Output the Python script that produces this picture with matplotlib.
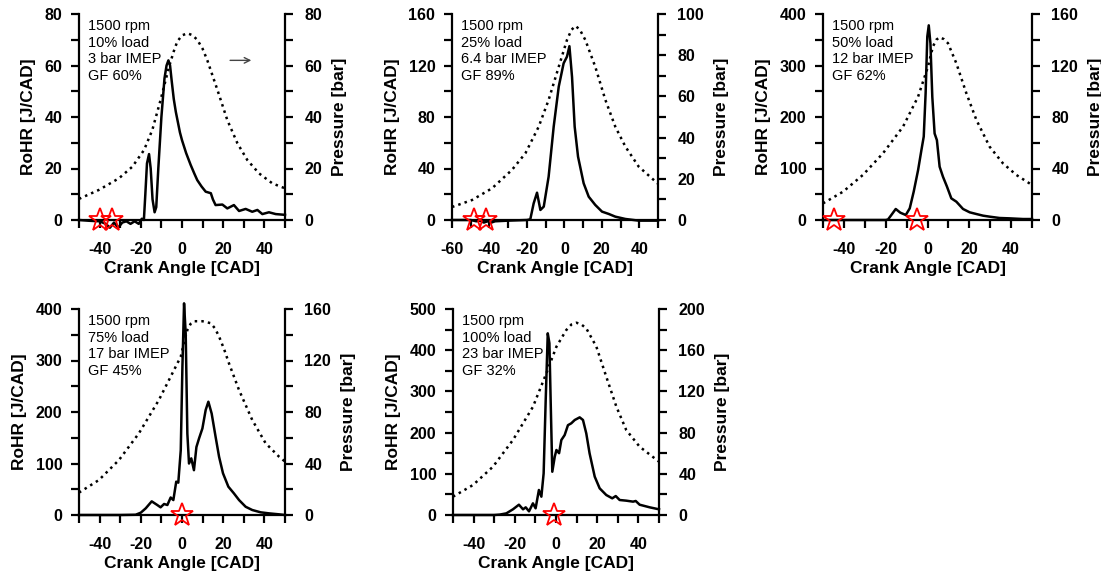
import matplotlib
matplotlib.use("Agg")
import matplotlib.pyplot as plt
from matplotlib.ticker import MultipleLocator

plt.rcParams["font.family"] = ["Liberation Sans", "DejaVu Sans"]
plt.rcParams["axes.unicode_minus"] = False

# ---- data ----
# panel 1: 10% load
ca1 = [-50, -45, -40, -37, -35, -33, -31, -29, -27, -25, -23, -21, -19.5, -18.5, -17.8, -17, -16, -15.2,
       -14.3, -13.3, -12.5, -11.5, -10, -8.5, -7.5, -6.6, -5.8, -5, -4, -3, -2, -1, 0, 2, 4.2, 6, 7.4, 9.5,
       11.5, 14, 15, 16.3, 19.6, 22, 25.2, 27.7, 30.9, 34.1, 36.6, 39, 42.2, 45.5, 50]
rohr1 = [0, -0.3, -0.5, -1.5, -3, -1, -3, -1, -0.5, -1.5, -0.5, -1.5, 0.5, 0, 10, 22, 25.6, 20,
         8, 3, 5, 20, 40, 55, 60, 62, 60, 54, 47, 42, 38, 34, 31, 26, 21.4, 18, 15.5, 13,
         11, 10.4, 8, 5.8, 6, 4.5, 5.8, 3.5, 4.3, 3.2, 3.9, 2.3, 3, 2.3, 2]
pca1 = [-50, -40.3, -30.6, -24.1, -18.4, -14.4, -10.4, -6.3, -4, -2.3, 0, 2.6, 5, 7.4, 10, 12.3, 17.2,
        22, 26.9, 31.7, 37.4, 43.9, 50]
p1 = [8.2, 11.7, 16.2, 20.7, 27.2, 35, 46.6, 59.5, 65.5, 69.3, 71.7, 72.5, 71.8, 70, 66.5, 62, 50.5,
      38.8, 29.8, 23.3, 18.1, 14.2, 12.3]

# panel 2: 25% load
ca2 = [-60, -50, -47, -45, -43, -41, -39, -37, -30, -20, -18.2, -16.4, -14.6, -12.8, -11, -8.4, -5.7, -3,
       -0.4, 1.4, 2.7, 4.1, 5.5, 7.3, 10.3, 13, 16.5, 20.1, 23.7, 27.2, 32.6, 39.7, 50]
rohr2 = [0, 0, -1, -0.5, -2, -1, -2, -1, -0.5, 0, 0.5, 12.9, 21.2, 7.8, 10.4, 33.7, 72.5, 103.6,
         121.7, 126.9, 135, 111, 72.5, 49.2, 28.5, 18.1, 11.7, 6.5, 4.7, 2.6, 0.8, -0.5, -0.5]
pca2 = [-60, -49.3, -38.6, -28, -20.8, -13.7, -8.4, -3, 1.4, 3.8, 5.9, 8.2, 11.2, 16.5, 21.9, 27.2, 32.6,
        39.7, 50]
p2 = [6.3, 9.7, 15.4, 24.3, 32.4, 45.3, 58.3, 74.4, 87.4, 92.3, 94.2, 92.5, 87.4, 74.4, 58.3, 45.3, 35.6,
      25.9, 17.6]

# panel 3: 50% load
ca3 = [-50, -40, -30, -20, -18.9, -17.3, -15.2, -13, -10.4, -8.5, -6.6, -4.5, -2.9, -1.8, -0.9, -0.1, 0.6,
       1.4, 2.3, 3.4, 4.5, 5.8, 7.4, 9.3, 11.4, 13.8, 17, 20.2, 23.4, 26.6, 29.7, 34.5, 39.3, 45.7, 50]
rohr3 = [0, 0, 0, 0, 1, 9.7, 21.4, 14.2, 9.7, 22.6, 55, 97, 136, 162, 246, 356, 378,
         343, 239, 168, 155, 103.5, 84, 65, 42, 35.6, 21.4, 14.9, 11.6, 8.4, 6.5, 3.9, 3.2, 1.9, 1.9]
pca3 = [-50, -40.4, -30.9, -21.3, -11.7, -4.5, 0.2, 2.6, 4.2, 5.8, 7.8, 9.8, 13.8, 18.6, 23.4, 29.7, 36.1,
        42.5, 50]
p3 = [12.9, 22, 35, 51.8, 72.5, 95.8, 119, 134.7, 140, 141.9, 140.5, 137.3, 121.7, 98.4, 77.7, 57, 44,
      35, 27.2]

# panel 4: 75% load
ca4 = [-50, -30, -22.5, -20, -17.6, -14.7, -12, -10.4, -8.7, -7.1, -5.5, -4.2, -2.8, -1.8, -0.6, 0.2, 1,
       1.8, 2.6, 3.4, 4.5, 5.8, 7, 8.3, 9.9, 11.5, 12.8, 14.4, 16.3, 18, 19.9, 22.5, 25.2, 27.7, 30.9,
       34.1, 38.2, 42.2, 47.1, 50]
rohr4 = [0, 0, 0.5, 4.5, 13, 26.5, 19.4, 14.9, 21.4, 19.4, 34, 29, 64.7, 62.8, 126, 288, 411,
         352, 158, 100, 110, 87, 132, 149, 168, 204, 220, 197, 152, 113, 81, 55, 42, 29, 16,
         9.7, 5.2, 3.2, 1.3, 0]
pca4 = [-50, -40.3, -30.6, -20.9, -11.2, -4.7, -0.6, 1, 2.6, 4.2, 5.8, 9.9, 13.9, 16, 18, 20.5, 22.8,
        27.7, 34.1, 40.6, 47.1, 50]
p4 = [17.4, 27.2, 42.7, 63.5, 89.4, 110, 123, 134, 143.7, 148.5, 150.5, 150.5, 149, 145, 138.6, 128.5,
      117.8, 97, 73.8, 55.7, 45.3, 41.5]

# panel 5: 100% load
ca5 = [-50, -30, -27.3, -24.1, -20.9, -18, -16, -14.7, -13.1, -11.2, -9.9, -8.3, -7.1, -6, -5, -4, -3.2,
       -2.6, -1.8, -0.6, 0.2, 1.5, 2.6, 4.2, 5.8, 7.4, 9.1, 11.5, 13.1, 14.7, 16.3, 18.8, 21.2, 24.4,
       27.3, 29, 30.9, 34.1, 37.4, 38.7, 40.6, 45.5, 50]
rohr5 = [0, 0, 1, 4, 13.8, 25, 13.8, 18.6, 8.9, 28.3, 16.2, 60.7, 44.5, 101, 279, 441, 417,
         279, 105, 141.6, 157.8, 150, 182, 194, 218, 222.5, 230.6, 237, 230.6, 198, 149.7, 93, 64.7, 48.5,
         40.5, 46, 36.4, 34.8, 32.4, 34, 25, 18.6, 13.8]
pca5 = [-50, -40.3, -30.6, -20.9, -11.2, -4.7, 0.2, 5, 7.5, 9.9, 12.3, 14.7, 19.6, 24.4, 29.3, 34.1,
        40.6, 50]
p5 = [17.8, 29.1, 46.9, 72.8, 105, 137.5, 163.4, 179.6, 185, 186.7, 185, 181.2, 163.4, 134.3, 105.2,
      82.5, 66.3, 51.8]

notes = [
    "1500 rpm\n10% load\n3 bar IMEP\nGF 60%",
    "1500 rpm\n25% load\n6.4 bar IMEP\nGF 89%",
    "1500 rpm\n50% load\n12 bar IMEP\nGF 62%",
    "1500 rpm\n75% load\n17 bar IMEP\nGF 45%",
    "1500 rpm\n100% load\n23 bar IMEP\nGF 32%",
]
stars = [[-40, -34], [-48, -42], [-44.5, -5], [0], [-1]]
xlims = [(-50, 50), (-60, 50), (-50, 50), (-50, 50), (-50, 50)]
ylims_rohr = [80, 160, 400, 400, 500]
rohr_step = [20, 40, 100, 100, 100]
ylims_p = [80, 100, 160, 160, 200]
p_step = [20, 20, 40, 40, 40]

# ---- layout ----
fig = plt.figure(figsize=(11.01, 5.74), dpi=100)
W, H = 1101, 574
boxes = [(79, 14, 206), (452, 14, 206), (823, 14, 209), (79, 309, 206), (453, 309, 206)]

data = [(ca1, rohr1, pca1, p1), (ca2, rohr2, pca2, p2), (ca3, rohr3, pca3, p3),
        (ca4, rohr4, pca4, p4), (ca5, rohr5, pca5, p5)]

lw_ax = 1.6
for i, (x0, y0, w) in enumerate(boxes):
    ax = fig.add_axes([x0 / W, 1 - (y0 + 206) / H, w / W, 206 / H])
    ax2 = ax.twinx()
    ax.set_zorder(ax2.get_zorder() + 1)
    ax.patch.set_visible(False)
    ca, rohr, pca, p = data[i]

    ax.plot(ca, rohr, color="black", lw=1.8, zorder=3, clip_on=False)
    ax2.plot(pca, p, color="black", lw=1.8, ls=":")
    ax.plot(stars[i], [0] * len(stars[i]), ls="none", marker="*", ms=17, mfc="none",
            mec="red", mew=1.3, clip_on=False, zorder=10)

    ax.set_xlim(*xlims[i])
    ax.set_ylim(0, ylims_rohr[i])
    ax2.set_ylim(0, ylims_p[i])

    ax.xaxis.set_major_locator(MultipleLocator(20))
    ax.xaxis.set_minor_locator(MultipleLocator(10))
    ax.yaxis.set_major_locator(MultipleLocator(rohr_step[i]))
    ax.yaxis.set_minor_locator(MultipleLocator(rohr_step[i] / 2))
    ax2.yaxis.set_major_locator(MultipleLocator(p_step[i]))
    ax2.yaxis.set_minor_locator(MultipleLocator(p_step[i] / 2))

    for a in (ax, ax2):
        a.spines["top"].set_visible(False)
        for s in ("left", "right", "bottom"):
            a.spines[s].set_linewidth(lw_ax)
        a.tick_params(which="both", direction="out", length=6, width=lw_ax, labelsize=11.5, pad=6)
        for lab in a.get_xticklabels() + a.get_yticklabels():
            lab.set_fontweight("bold")
    ax.spines["right"].set_visible(False)
    ax2.spines["left"].set_visible(False)
    ax2.spines["bottom"].set_visible(False)
    ax.tick_params(axis="x", pad=10)
    ax2.tick_params(axis="y", pad=8)

    ax.set_xlabel("Crank Angle [CAD]", fontsize=12.5, fontweight="bold", labelpad=3)
    ax.set_ylabel("RoHR [J/CAD]", fontsize=12.5, fontweight="bold", labelpad=6)
    ax2.set_ylabel("Pressure [bar]", fontsize=12.5, fontweight="bold", labelpad=7)

    ax.text(0.045, 0.975, notes[i], transform=ax.transAxes, ha="left", va="top",
            fontsize=10.5, linespacing=1.24)

    if i == 0:
        ax.annotate("", xy=(35, 62), xytext=(22, 62),
                    arrowprops=dict(arrowstyle="->", color="#444444", lw=1))

fig.savefig("out.png", dpi=100)
